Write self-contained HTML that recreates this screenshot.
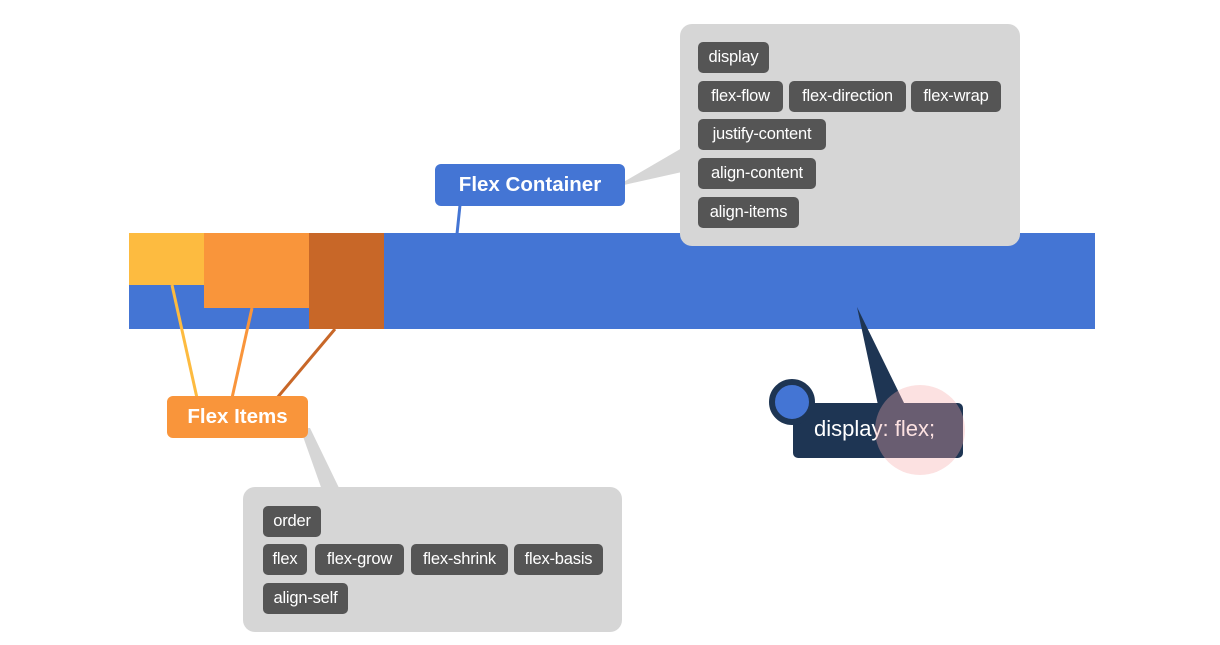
<!DOCTYPE html>
<html><head><meta charset="utf-8"><style>
body{margin:0;width:1220px;height:645px;background:#fff;position:relative;overflow:hidden;font-family:"Liberation Sans","DejaVu Sans",sans-serif}
.a{position:absolute}
.chip{position:absolute;background:#555;color:#fff;border-radius:5px;font-size:16.5px;height:31px;line-height:31px;text-align:center;letter-spacing:-0.2px}
.g{background:#d6d6d6;border-radius:12px}
.lbl{color:#fff;font-weight:bold;font-size:20.5px;text-align:center;border-radius:6px}
</style></head><body>
<svg class="a" style="left:0;top:0" width="1220" height="645">
<rect x="129" y="233" width="966" height="96" fill="#4475d4"/>
<rect x="129" y="233" width="75" height="52" fill="#fdbb40"/>
<rect x="204" y="233" width="105" height="75" fill="#f9953b"/>
<rect x="309" y="233" width="75" height="96" fill="#c86728"/>
<line x1="460" y1="205" x2="457" y2="234" stroke="#4475d4" stroke-width="3"/>
<line x1="172" y1="285" x2="197" y2="398" stroke="#fdbb40" stroke-width="3"/>
<line x1="252" y1="308" x2="232" y2="398" stroke="#f9953b" stroke-width="3"/>
<line x1="335" y1="329" x2="277" y2="398" stroke="#c86728" stroke-width="3"/>
<polygon points="615,187 682,148 682,172" fill="#d6d6d6"/>
<polygon points="300,428 310,428 340,490 322,490" fill="#d6d6d6"/>
<polygon points="857,307 878,405 905,405" fill="#1e3553"/>
</svg>
<div class="a g" style="left:680px;top:24px;width:340px;height:222px"></div>
<div class="a g" style="left:243px;top:487px;width:379px;height:145px"></div>
<div class="a lbl" style="left:435px;top:164px;width:190px;height:42px;line-height:42px;background:#4475d4">Flex Container</div>
<div class="a lbl" style="left:167px;top:396px;width:141px;height:42px;line-height:42px;background:#f9953b">Flex Items</div>
<div class="chip" style="left:698px;top:42px;width:71px">display</div>
<div class="chip" style="left:698px;top:81px;width:85px">flex-flow</div>
<div class="chip" style="left:789px;top:81px;width:117px">flex-direction</div>
<div class="chip" style="left:911px;top:81px;width:90px">flex-wrap</div>
<div class="chip" style="left:698px;top:119px;width:128px">justify-content</div>
<div class="chip" style="left:698px;top:158px;width:118px">align-content</div>
<div class="chip" style="left:698px;top:197px;width:101px">align-items</div>
<div class="chip" style="left:263px;top:506px;width:58px">order</div>
<div class="chip" style="left:263px;top:544px;width:44px">flex</div>
<div class="chip" style="left:315px;top:544px;width:89px">flex-grow</div>
<div class="chip" style="left:411px;top:544px;width:97px">flex-shrink</div>
<div class="chip" style="left:514px;top:544px;width:89px">flex-basis</div>
<div class="chip" style="left:263px;top:583px;width:85px">align-self</div>
<div class="a" style="left:793px;top:403px;width:170px;height:55px;background:#1e3553;border-radius:5px;color:#fff;font-size:22px;line-height:52px;text-indent:21px">display: flex;</div>
<div class="a" style="left:771px;top:381px;width:34px;height:34px;border-radius:50%;background:#4475d4;border:6px solid #1e3553;box-sizing:content-box;margin:-2px"></div>
<div class="a" style="left:875px;top:385px;width:90px;height:90px;border-radius:50%;background:rgba(245,170,170,0.35)"></div>
</body></html>
